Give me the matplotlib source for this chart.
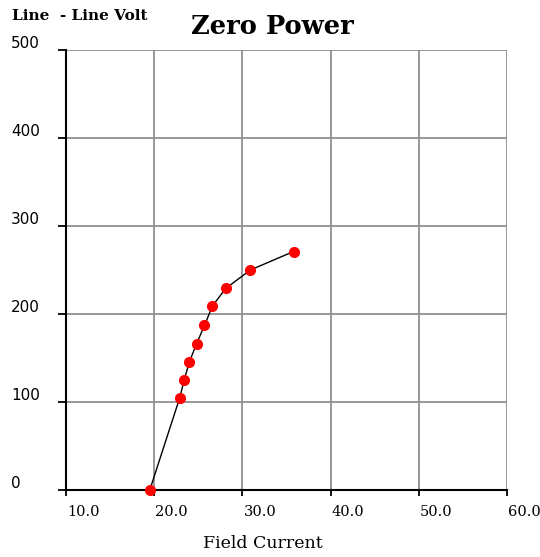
import numpy as np
import matplotlib
matplotlib.use("Agg")
import matplotlib.pyplot as plt
import matplotlib.transforms as mtrans

# data
field_current = [19.5, 22.9, 23.4, 24.0, 24.8, 25.7, 26.6, 28.1, 30.9, 35.8]
line_volt = [0, 105, 125, 146, 166, 187, 209, 229, 250, 271]
x_ticks = [10, 20, 30, 40, 50, 60]
y_ticks = [0, 100, 200, 300, 400, 500]

plt.rcParams['font.family'] = ['DejaVu Serif']

fig = plt.figure(figsize=(5.4, 5.57), dpi=100)
ax = fig.add_axes([66/540, 67/557, 441/540, 440/557])

ax.set_xlim(10, 60)
ax.set_ylim(0, 500)
ax.set_xticks(x_ticks)
ax.set_yticks(y_ticks)
ax.grid(True, color='#909090', linewidth=1.3)
ax.set_axisbelow(True)

for side in ['top', 'right']:
    ax.spines[side].set_visible(False)
ax.spines['left'].set_linewidth(1.5)
ax.spines['bottom'].set_linewidth(1.5)
ax.tick_params(axis='x', direction='out', length=4, width=1.3, labelbottom=False)
ax.tick_params(axis='y', direction='out', length=6, width=1.3, labelleft=False)

ax.plot(field_current, line_volt, color='black', linewidth=1.0, zorder=3)
ax.plot(field_current, line_volt, 'o', color='red', markersize=7, zorder=4, clip_on=False)

# tick labels placed like the old applet: x left-aligned at tick, y at far left above line
xtr = mtrans.blended_transform_factory(ax.transData, ax.transAxes)
xoff = mtrans.offset_copy(xtr, fig=fig, x=1, y=-15, units='dots')
for v in x_ticks:
    ax.text(v, 0, f"{v:.1f}", transform=xoff, ha='left', va='top', fontsize=10.5)

ytr = mtrans.blended_transform_factory(fig.transFigure, ax.transData)
yoff = mtrans.offset_copy(ytr, fig=fig, x=0, y=7, units='dots')
for v in y_ticks:
    ax.text(11/540, v, str(v), transform=yoff, ha='left', va='center', fontsize=11,
            family=['DejaVu Sans'])

fig.text(12/540, 1 - 16/557, "Line  - Line Volt", ha='left', va='center', fontsize=11,
         fontweight='bold')
fig.text(272/540, 1 - 26/557, "Zero Power", ha='center', va='center', fontsize=18.5, fontweight='bold')
fig.text(263/540, 1 - 543/557, "Field Current", ha='center', va='center', fontsize=12.5)

fig.savefig("out.png", dpi=100)
